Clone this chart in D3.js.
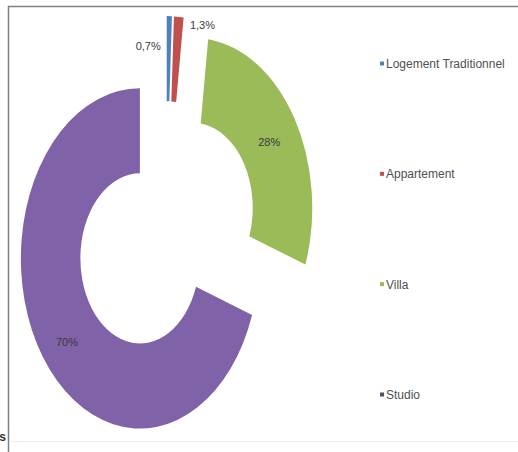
<!DOCTYPE html>
<html>
<head>
<meta charset="utf-8">
<script src="https://cdn.jsdelivr.net/npm/d3@7"></script>
<style>
  body { margin: 0; background: #fff; }
  svg { display: block; }
  text { font-family: "Liberation Sans Narrow", "Arial Narrow", "Liberation Sans", sans-serif; }
</style>
</head>
<body>
<div id="viz"></div>
<script>
var categories = ['Logement Traditionnel', 'Appartement', 'Villa', 'Studio'];
var values = [0.7, 1.3, 28.4, 69.6];
var labels = ['0,7%', '1,3%', '28%', '70%'];
var colors = ['#4f81bd', '#c0504d', '#9bbb59', '#7f62a8'];

var width = 518,
    height = 452;

var cx = 166, cy = 232,   // centre before explosion
    radius = 119,
    stretch = 1.43,         // the picture is squeezed: taller than wide
    explode = 32;

var svg = d3.select('#viz').append('svg')
  .attr('width', width)
  .attr('height', height)

// frame lines
svg.append('line')
  .attr('x1', 8).attr('x2', width).attr('y1', 6.5).attr('y2', 6.5)
  .attr('stroke', '#808080').attr('stroke-width', 1.5)
svg.append('line')
  .attr('x1', 8.5).attr('x2', 8.5).attr('y1', 6).attr('y2', height)
  .attr('stroke', '#808080').attr('stroke-width', 1.5)
svg.append('line')
  .attr('x1', 9).attr('x2', width).attr('y1', 441.5).attr('y2', 441.5)
  .attr('stroke', '#eeeeee').attr('stroke-width', 1)
svg.append('text')
  .attr('x', 6).attr('y', 441)
  .attr('text-anchor', 'end')
  .style('font-family', '"Liberation Sans", sans-serif')
  .style('font-weight', 'bold')
  .style('font-size', '12px')
  .attr('fill', '#333')
  .text('s')

var data = categories.map(function(c, i){
  return {name: c, value: values[i], label: labels[i], color: colors[i]};
})

var pie = d3.pie()
  .sort(null)
  .value(function(d){ return d.value })
  .startAngle(0)
  .endAngle(2 * Math.PI)

var arc = d3.arc()
  .innerRadius(radius * 0.5)
  .outerRadius(radius)

var arcs = pie(data);

arcs.forEach(function(d){
  var mid = (d.startAngle + d.endAngle) / 2;
  d.ox = cx + explode * Math.sin(mid);
  d.oy = cy - explode * Math.cos(mid) * stretch;
})

svg.selectAll('.slice')
  .data(arcs)
  .enter()
  .append('path')
  .attr('class', 'slice')
  .attr('transform', function(d){
    return 'translate(' + d.ox + ',' + d.oy + ') scale(1,' + stretch + ')';
  })
  .attr('d', arc)
  .attr('fill', function(d){ return d.data.color })

// data labels: centroid for the big slices, outside for the thin ones
svg.selectAll('.lbl')
  .data(arcs)
  .enter()
  .append('text')
  .attr('class', 'lbl')
  .style('font-size', '11px')
  .attr('fill', '#3a3a3a')
  .attr('text-anchor', function(d, i){
    if(i == 0) return 'end';
    if(i == 1) return 'start';
    return 'middle';
  })
  .attr('x', function(d, i){
    var top = d.ox + radius * Math.sin(d.startAngle);
    if(i == 0) return top - 6;
    if(i == 1) return top + 16;
    return d.ox + arc.centroid(d)[0];
  })
  .attr('y', function(d, i){
    var top = d.oy - radius * stretch;
    if(i == 0) return top + 34;
    if(i == 1) return top + 13;
    return d.oy + arc.centroid(d)[1] * stretch + (i == 3 ? 14 : 5);
  })
  .text(function(d){ return d.data.label })

// legend
var legendY = d3.scalePoint()
  .domain(categories)
  .range([64, 395])

var legend = svg.selectAll('.legend')
  .data(data)
  .enter()
  .append('g')
  .attr('class', 'legend')
  .attr('transform', function(d){ return 'translate(380,' + legendY(d.name) + ')' })

legend.append('rect')
  .attr('x', 0).attr('y', -2.5)
  .attr('width', 4).attr('height', 4)
  .attr('fill', function(d, i){ return i == 3 ? '#5a4a6e' : d.color })

legend.append('text')
  .attr('x', 6).attr('y', 4)
  .style('font-size', '12px')
  .attr('fill', '#505050')
  .text(function(d){ return d.name })
</script>
</body>
</html>
